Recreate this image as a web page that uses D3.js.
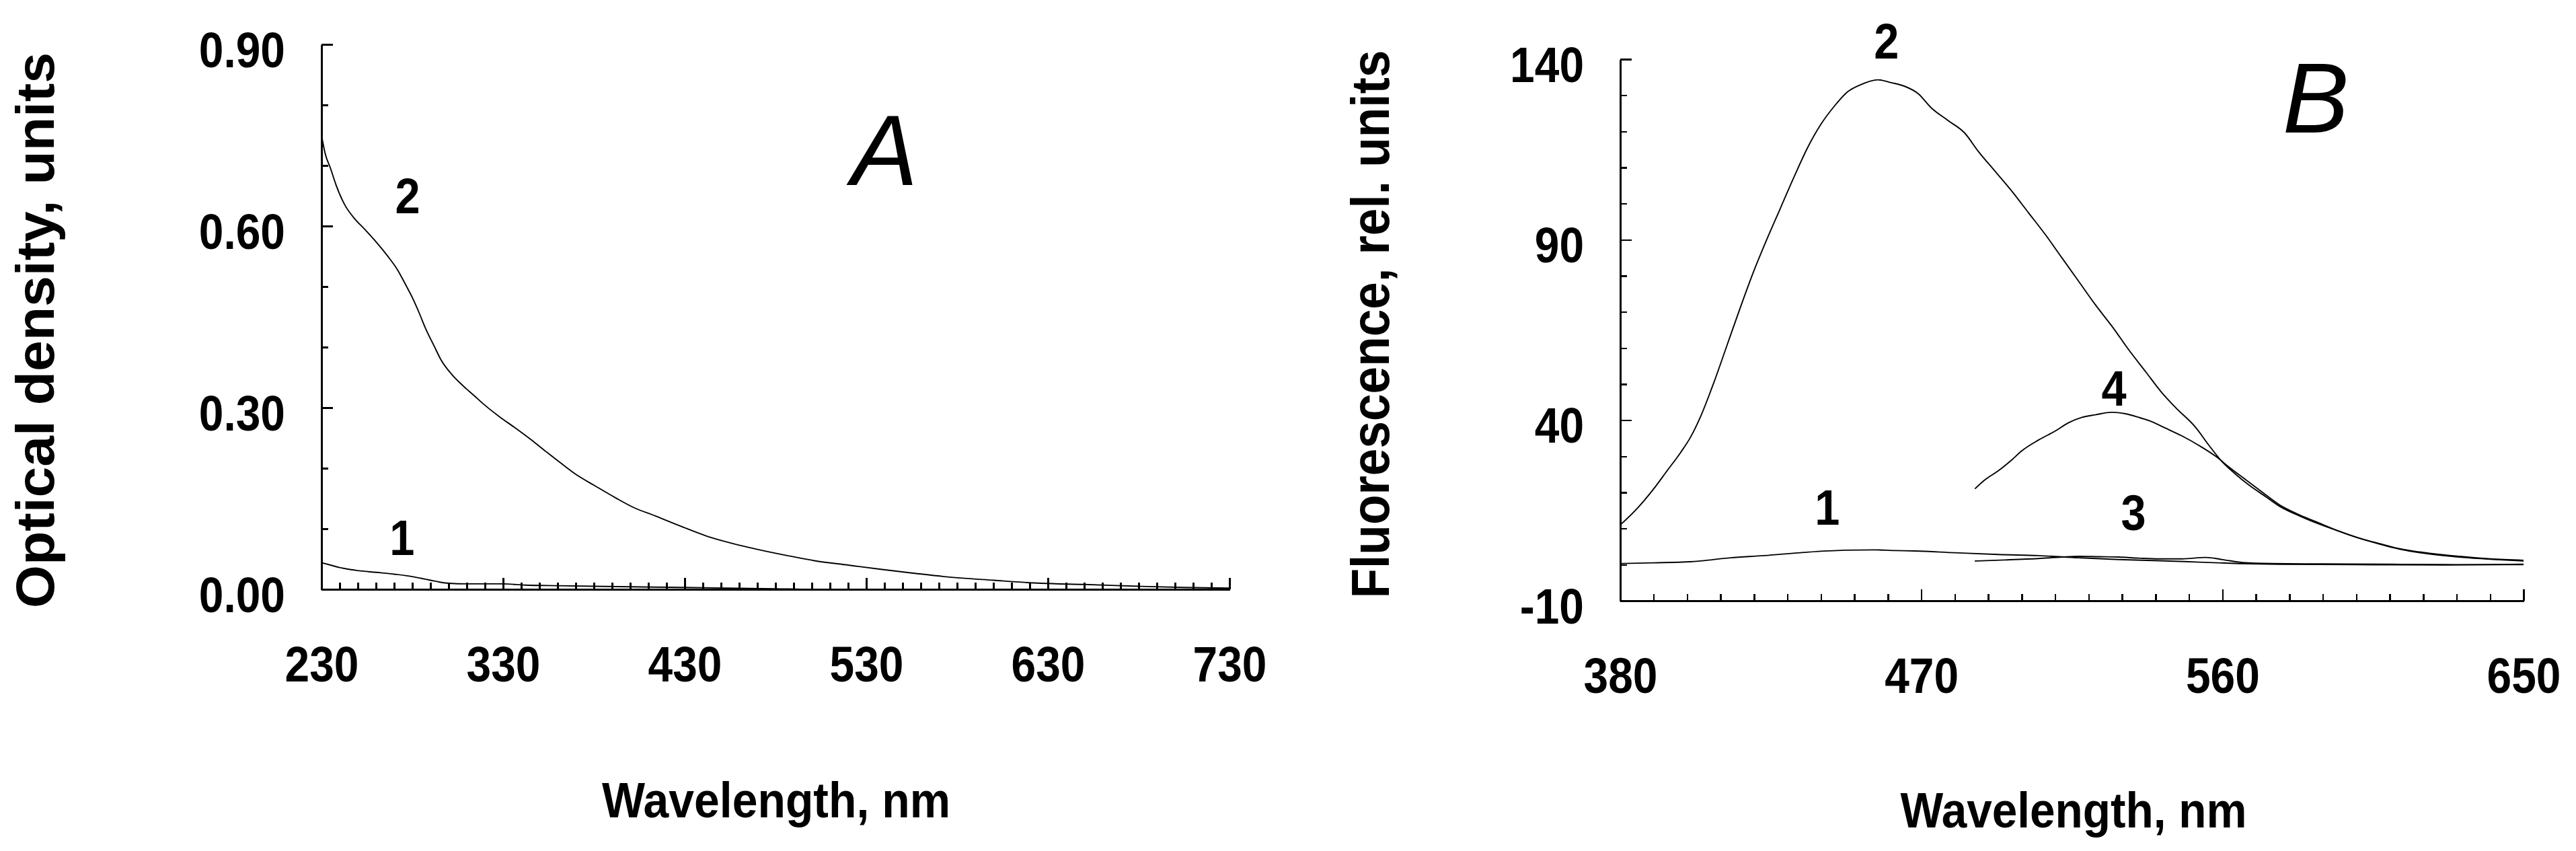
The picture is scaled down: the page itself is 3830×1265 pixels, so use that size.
<!DOCTYPE html>
<html>
<head>
<meta charset="utf-8">
<script src="https://cdn.jsdelivr.net/npm/d3@7"></script>
<style>
  body { margin: 0; background: #fff; }
  text { font-family: "Liberation Sans", Arial, sans-serif; fill: #000; }
</style>
</head>
<body>
<div class="chart"></div>
<script>
// Panel A: absorption spectra, [wavelength nm, optical density]
var absCurve1 = [[230,0.044],[235,0.040],[240,0.036],[245,0.033],[250,0.031],[260,0.028],[270,0.025],[280,0.021],
  [285,0.018],[290,0.015],[295,0.012],[300,0.010],[310,0.009],[330,0.009],[342,0.007],[360,0.006],[380,0.005],
  [430,0.003],[480,0.001],[500,0.000],[600,0.000],[730,0.000]]
var absCurve2 = [[230,0.750],[232,0.720],[235,0.695],[238,0.668],[243,0.634],[248,0.613],[254,0.594],[260,0.574],
  [266,0.552],[272,0.527],[276,0.505],[280,0.482],[284,0.455],[287,0.433],[292,0.402],[296,0.378],[302,0.354],
  [308,0.336],[314,0.320],[320,0.304],[328,0.285],[336,0.268],[345,0.248],[353,0.229],[362,0.208],[371,0.188],
  [380,0.172],[392,0.151],[402,0.135],[414,0.121],[428,0.104],[442,0.088],[456,0.076],[470,0.066],[486,0.056],
  [502,0.047],[520,0.040],[538,0.033],[555,0.027],[573,0.021],[600,0.015],[626,0.010],[650,0.008],[680,0.005],
  [705,0.003],[730,0.002]]

// Panel B: fluorescence spectra, [wavelength nm, rel. units]
var flCurve1 = [[380,0.3],[390,0.5],[401,0.8],[413,1.9],[423,2.5],[435,3.4],[447,4.0],[456,4.1],[462,3.9],[468,3.8],
  [480,3.3],[493,2.8],[505,2.5],[517,1.9],[529,1.4],[541,1.1],[553,0.7],[565,0.3],[577,0.1],[600,0.0],[625,-0.1],[650,0.1]]
var flCurve2 = [[380,11.0],[385,15.5],[390,21.0],[394,26.0],[398,31.0],[401,35.3],[404,41.0],[408,50.5],[412,61.0],
  [416,71.5],[420,81.5],[424,90.5],[428,99.0],[432,107.5],[436,115.5],[440,122.0],[444,127.0],[448,131.0],
  [452,133.0],[457,134.3],[461,133.5],[465,132.5],[469,130.5],[473,126.5],[478,123.0],[483,119.5],[487,114.5],
  [492,109.0],[497,103.5],[502,97.5],[507,91.5],[512,85.0],[517,78.5],[522,72.0],[527,66.0],[532,59.5],
  [537,53.5],[542,47.5],[546,43.5],[552,38.0],[556,33.0],[560,28.4],[564,25.0],[568,22.0],[573,18.8],
  [577,16.2],[583,13.5],[589,11.2],[595,9.2],[601,7.3],[607,5.8],[613,4.4],[619,3.5],[625,2.8],[632,2.2],
  [640,1.6],[650,1.2]]
var flCurve3 = [[486,1.0],[495,1.3],[505,1.7],[512,2.1],[517,2.3],[523,2.2],[529,2.1],[535,1.8],[541,1.6],[548,1.6],
  [555,2.0],[560,1.4],[566,0.6],[575,0.3],[590,0.2],[610,0.1],[630,0.0],[650,0.0]]
var flCurve4 = [[486,21.0],[489,23.5],[493,26.0],[497,29.0],[500,31.5],[505,34.5],[510,37.0],[514,39.3],[518,40.8],
  [522,41.5],[527,42.2],[531,41.8],[535,40.8],[538,39.9],[543,37.8],[548,35.6],[553,33.0],[558,30.0],[562,27.0],
  [567,23.5],[572,20.0],[577,16.6],[583,13.8],[589,11.5],[595,9.2],[601,7.3],[607,5.7],[613,4.3],[619,3.3],
  [625,2.6],[632,2.0],[640,1.5],[650,1.0]]

// ticks
var aTicksX = [230, 330, 430, 530, 630, 730]
var aTicksY = [0, 0.3, 0.6, 0.9]
var bTicksX = [380, 470, 560, 650]
var bTicksY = [-10, 40, 90, 140]

// curve numbers: [label, nm, value]
var aLabels = [['2', 277.4, 0.621], ['1', 274.4, 0.057]]
var bLabels = [['2', 459.6, 140.2], ['4', 527.6, 44.0], ['1', 441.9, 11.05], ['3', 533.4, 9.56]]

var svg = d3.select('.chart').append('svg')
    .attr('width', 3830)
    .attr('height', 1265)

function drawPanel(p) {
    var x = d3.scaleLinear().domain(p.xDomain).range(p.xRange)
    var y = d3.scaleLinear().domain(p.yDomain).range(p.yRange)
    var g = svg.append('g')

    // x axis, ticks pointing inward
    var minorX = d3.range(p.xDomain[0], p.xDomain[1] + 0.001, 10)
    g.append('g')
        .attr('transform', `translate(0, ${p.yRange[0]})`)
        .call(d3.axisBottom(x).tickValues(minorX).tickSize(-10).tickSizeOuter(0).tickFormat(''))
    g.append('g')
        .attr('class', 'xmaj')
        .attr('transform', `translate(0, ${p.yRange[0]})`)
        .call(d3.axisBottom(x).tickValues(p.ticksX).tickSize(-17).tickSizeOuter(0).tickPadding(84).tickFormat(p.fmtX))

    // y axis
    var minorY = d3.range(p.yDomain[0], p.yDomain[1] + p.minorY / 2, p.minorY)
    g.append('g')
        .attr('transform', `translate(${p.xRange[0]}, 0)`)
        .call(d3.axisLeft(y).tickValues(minorY).tickSize(-10).tickSizeOuter(0).tickFormat(''))
    g.append('g')
        .attr('class', 'ymaj')
        .attr('transform', `translate(${p.xRange[0]}, 0)`)
        .call(d3.axisLeft(y).tickValues(p.ticksY).tickSize(-17).tickSizeOuter(0).tickPadding(54).tickFormat(p.fmtY))

    g.selectAll('.domain, .tick line')
        .attr('stroke', '#000')
        .attr('stroke-width', 2.5)
        .attr('shape-rendering', 'crispEdges')
    g.selectAll('.tick text')
        .attr('class', 'cond')
        .attr('font-size', 74)
        .attr('font-weight', 'bold')
        .attr('font-family', '"Liberation Sans", Arial, sans-serif')
    g.selectAll('.ymaj .tick text').attr('dy', '0.45em')

    var line = d3.line().x(d => x(d[0])).y(d => y(d[1])).curve(d3.curveMonotoneX)
    p.series.forEach(s => {
        g.append('path')
            .datum(s)
            .attr('fill', 'none')
            .attr('stroke', '#000')
            .attr('stroke-width', 1.9)
            .attr('stroke-linejoin', 'round')
            .attr('d', line)
    })

    g.selectAll('text.curveLabel')
        .data(p.labels)
        .enter().append('text')
        .attr('class', 'cond curveLabel')
        .attr('x', d => x(d[1]))
        .attr('y', d => y(d[2]))
        .attr('text-anchor', 'middle')
        .attr('font-size', 75)
        .attr('font-weight', 'bold')
        .text(d => d[0])

    // axis titles
    g.append('text')
        .attr('x', p.xTitle[0])
        .attr('y', p.xTitle[1])
        .attr('text-anchor', 'middle')
        .attr('font-size', 74)
        .attr('font-weight', 'bold')
        .attr('textLength', p.xTitle[2])
        .attr('lengthAdjust', 'spacingAndGlyphs')
        .text('Wavelength, nm')
    g.append('text')
        .attr('transform', `translate(${p.yTitle[0]}, ${p.yTitle[1]}) rotate(-90)`)
        .attr('text-anchor', 'middle')
        .attr('font-size', 80)
        .attr('font-weight', 'bold')
        .attr('textLength', p.yTitle[2])
        .attr('lengthAdjust', 'spacingAndGlyphs')
        .text(p.yText)

    // panel letter
    g.append('text')
        .attr('x', p.letter[0])
        .attr('y', p.letter[1])
        .attr('text-anchor', 'middle')
        .attr('font-size', 148)
        .attr('font-style', 'italic')
        .text(p.letter[2])
}

drawPanel({
    xDomain: [230, 730], xRange: [478, 1828],
    yDomain: [0, 0.9], yRange: [876, 66],
    ticksX: aTicksX, ticksY: aTicksY, minorY: 0.1,
    fmtX: d => String(d), fmtY: d3.format('.2f'),
    series: [absCurve1, absCurve2],
    labels: aLabels,
    xTitle: [1154, 1215, 518],
    yTitle: [80, 491, 826],
    yText: 'Optical density, units',
    letter: [1315, 275, 'A']
})

drawPanel({
    xDomain: [380, 650], xRange: [2409, 3752],
    yDomain: [-10, 140], yRange: [893, 88],
    ticksX: bTicksX, ticksY: bTicksY, minorY: 10,
    // plain hyphen for the negative label, as in the original
    fmtX: d => String(d), fmtY: d => String(d),
    series: [flCurve1, flCurve2, flCurve3, flCurve4],
    labels: bLabels,
    xTitle: [3083, 1230, 515],
    yTitle: [2065, 482, 815],
    yText: 'Fluorescence, rel. units',
    letter: [3443, 197, 'B']
})

// squeeze the bold digits a little, the original face is narrower
svg.selectAll('text.cond').each(function() {
    var w = this.getComputedTextLength()
    d3.select(this).attr('textLength', w * 0.89).attr('lengthAdjust', 'spacingAndGlyphs')
})
</script>
</body>
</html>
